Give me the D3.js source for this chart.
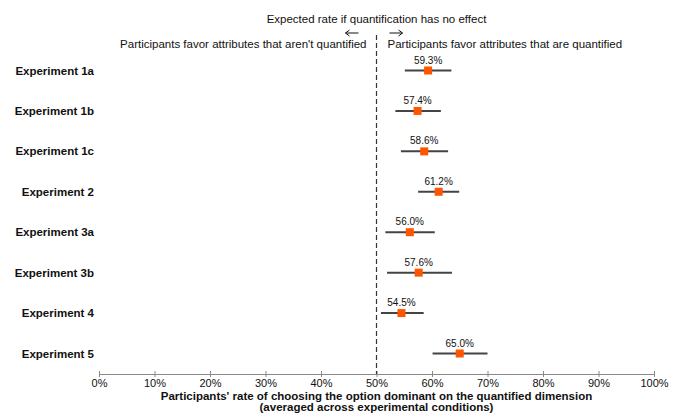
<!DOCTYPE html>
<html>
<head>
<meta charset="utf-8">
<script src="https://cdn.jsdelivr.net/npm/d3@7"></script>
<style>
  body { margin: 0; background: #fff; }
  text { font-family: "Liberation Sans", Arial, sans-serif; fill: #111; }
</style>
</head>
<body>
<div id="chart"></div>
<script>
// experiment labels, point estimates and interval ends (percent)
const experiments = ["Experiment 1a", "Experiment 1b", "Experiment 1c", "Experiment 2",
                     "Experiment 3a", "Experiment 3b", "Experiment 4", "Experiment 5"];
const rates = [59.3, 57.4, 58.6, 61.2, 56.0, 57.6, 54.5, 65.0];
const lows  = [55.1, 53.4, 54.4, 57.5, 51.6, 51.9, 50.8, 60.1];
const highs = [63.5, 61.6, 62.9, 64.9, 60.5, 63.6, 58.5, 70.0];
const tickValues = [0, 10, 20, 30, 40, 50, 60, 70, 80, 90, 100];
const nullRate = 50;

const width = 683, height = 417;
const svg = d3.select("#chart").append("svg")
  .attr("width", width).attr("height", height);

const x = d3.scaleLinear().domain([0, 100]).range([99, 654]);
const y = d3.scalePoint().domain(experiments).range([70.5, 353.5]);
const axisY = 374;

// x axis
const xAxis = d3.axisBottom(x).tickValues(tickValues)
  .tickFormat(d => d + "%").tickSize(5).tickSizeOuter(0);
const gx = svg.append("g").attr("transform", `translate(0,${axisY})`).call(xAxis);
gx.select(".domain").attr("stroke", "#888");
gx.selectAll(".tick line").attr("stroke", "#888").attr("y1", -3).attr("y2", 3);
gx.selectAll(".tick text").attr("y", 5).attr("dy", "0.71em")
  .style("font-size", "11px").style("font-family", "Liberation Sans, Arial, sans-serif").attr("fill", "#111");

// reference line
svg.append("line")
  .attr("x1", x(nullRate)).attr("x2", x(nullRate))
  .attr("y1", 35).attr("y2", axisY)
  .attr("stroke", "#333").attr("stroke-width", 1.2)
  .attr("stroke-dasharray", "5,3");

svg.append("text").attr("x", x(nullRate)).attr("y", 23)
  .attr("text-anchor", "middle").style("font-size", "11.5px")
  .text("Expected rate if quantification has no effect");
svg.append("text").attr("x", x(nullRate) - 10).attr("y", 48)
  .attr("text-anchor", "end").style("font-size", "11.5px")
  .text("Participants favor attributes that aren't quantified");
svg.append("text").attr("x", x(nullRate) + 11).attr("y", 48)
  .attr("text-anchor", "start").style("font-size", "11.5px")
  .text("Participants favor attributes that are quantified");

// arrows
const arrow = (x1, x2) => {
  svg.append("line").attr("x1", x1).attr("x2", x2).attr("y1", 33).attr("y2", 33)
    .attr("stroke", "#111").attr("stroke-width", 1);
  const dir = Math.sign(x2 - x1);
  svg.append("path")
    .attr("d", `M${x2 - dir * 4},30 L${x2},33 L${x2 - dir * 4},36`)
    .attr("fill", "none").attr("stroke", "#111").attr("stroke-width", 1);
};
arrow(x(nullRate) - 18, x(nullRate) - 31);
arrow(x(nullRate) + 13, x(nullRate) + 26);

// category labels
svg.append("g").selectAll("text").data(experiments).join("text")
  .attr("x", 94).attr("y", d => y(d)).attr("dy", "0.35em")
  .attr("text-anchor", "end").style("font-size", "11.5px").style("font-weight", "bold")
  .text(d => d);

const rows = experiments.map((e, i) => ({ e, rate: rates[i], lo: lows[i], hi: highs[i] }));

// error bars
svg.append("g").selectAll("line").data(rows).join("line")
  .attr("x1", d => x(d.lo)).attr("x2", d => x(d.hi))
  .attr("y1", d => y(d.e)).attr("y2", d => y(d.e))
  .attr("stroke", "#444").attr("stroke-width", 2);

// markers
svg.append("g").selectAll("rect").data(rows).join("rect")
  .attr("x", d => x(d.rate) - 4).attr("y", d => y(d.e) - 4)
  .attr("width", 8).attr("height", 8).attr("fill", "#ff5500");

// value labels
svg.append("g").selectAll("text").data(rows).join("text")
  .attr("x", d => x(d.rate)).attr("y", d => y(d.e) - 7)
  .attr("text-anchor", "middle").style("font-size", "10px")
  .text(d => d.rate.toFixed(1) + "%");

// axis title
svg.append("text").attr("x", x(50)).attr("y", 400)
  .attr("text-anchor", "middle").style("font-size", "11.5px").style("font-weight", "bold")
  .text("Participants' rate of choosing the option dominant on the quantified dimension");
svg.append("text").attr("x", x(50)).attr("y", 411)
  .attr("text-anchor", "middle").style("font-size", "11.5px").style("font-weight", "bold")
  .text("(averaged across experimental conditions)");
</script>
</body>
</html>
